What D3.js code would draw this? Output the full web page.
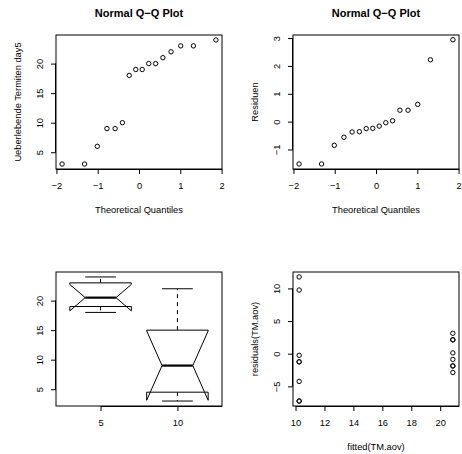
<!DOCTYPE html>
<html>
<head>
<meta charset="utf-8">
<script src="https://cdn.jsdelivr.net/npm/d3@7"></script>
<style>
  body { margin: 0; background: #fff; }
  svg text { font-family: "Liberation Sans", Arial, sans-serif; fill: #000; }
</style>
</head>
<body>
<svg id="chart" width="462" height="454" viewBox="0 0 462 454"></svg>
<script>
// ---- data ----
const theoQuantiles = [-1.863, -1.318, -1.010, -0.776, -0.579, -0.402, -0.237, -0.078,
                        0.078, 0.237, 0.402, 0.579, 0.776, 1.010, 1.318, 1.863];
const survivors = [3, 3, 6, 9, 9, 10, 18, 19, 19, 20, 20, 21, 22, 23, 23, 24];
const residQuantiles = [-1.52, -1.52, -0.85, -0.56, -0.37, -0.36, -0.25, -0.24,
                        -0.16, -0.04, 0.03, 0.41, 0.41, 0.62, 2.22, 2.94];

const boxGroups = ["5", "10"];
// lower whisker, lower hinge, median, upper hinge, upper whisker
const boxStats = [[18, 19, 20.5, 23, 24], [3, 4.5, 9, 15, 22]];
const boxNotches = [[18.27, 22.73], [3.13, 14.87]];

const fittedValues = [10.25, 10.25, 10.25, 10.25, 10.25, 10.25, 10.25, 10.25,
                      20.875, 20.875, 20.875, 20.875, 20.875, 20.875, 20.875, 20.875];
const residualValues = [11.75, 9.75, -0.25, -1.25, -1.25, -4.25, -7.25, -7.25,
                        3.125, 2.125, 2.125, 0.125, -0.875, -1.875, -1.875, -2.875];

const svg = d3.select("#chart");

/* ----- panel helpers ----- */

function makePanel(box, xDomain, yDomain)
{
    let x = d3.scaleLinear().domain(xDomain).range([box.x0, box.x1]);
    let y = d3.scaleLinear().domain(yDomain).range([box.y1, box.y0]);
    let g = svg.append("g");
    g.append("rect")
        .attr("x", box.x0).attr("y", box.y0)
        .attr("width", box.x1 - box.x0).attr("height", box.y1 - box.y0)
        .attr("fill", "none").attr("stroke", "#000").attr("stroke-width", 1);
    return {box: box, x: x, y: y, g: g};
}

function bottomAxis(p, ticks, fmt)
{
    let ax = svg.append("g")
        .attr("transform", `translate(0,${p.box.y1})`)
        .call(d3.axisBottom(p.x).tickValues(ticks).tickSize(5).tickFormat(fmt));
    ax.select(".domain").remove();
    ax.selectAll("text").attr("y", 20).attr("dy", null).style("font-size", "9.3px");
    // axis line runs on from the first tick
    svg.append("line")
        .attr("x1", p.x(ticks[0])).attr("x2", p.box.x1)
        .attr("y1", p.box.y1 + 0.5).attr("y2", p.box.y1 + 0.5)
        .attr("stroke", "#000").attr("stroke-width", 1.2);
}

function leftAxis(p, ticks, fmt)
{
    let ax = svg.append("g")
        .attr("transform", `translate(${p.box.x0},0)`)
        .call(d3.axisLeft(p.y).tickValues(ticks).tickSize(5).tickFormat(fmt));
    ax.select(".domain").remove();
    ax.selectAll("text")
        .attr("transform", "rotate(-90)")
        .attr("x", 0).attr("y", -13).attr("dy", null)
        .attr("text-anchor", "middle")
        .style("font-size", "9.3px");
    svg.append("line")
        .attr("x1", p.box.x0 - 0.5).attr("x2", p.box.x0 - 0.5)
        .attr("y1", p.y(ticks[0])).attr("y2", p.y(ticks[ticks.length - 1]))
        .attr("stroke", "#000").attr("stroke-width", 1);
}

function labels(p, title, xlab, ylab)
{
    let cx = (p.box.x0 + p.box.x1) / 2;
    let cy = (p.box.y0 + p.box.y1) / 2;
    if (title) {
        svg.append("text").attr("x", cx).attr("y", p.box.y0 - 18)
            .attr("text-anchor", "middle")
            .style("font-size", "11px").style("font-weight", "bold")
            .text(title);
    }
    if (xlab) {
        svg.append("text").attr("x", cx).attr("y", p.box.y1 + 43.5)
            .attr("text-anchor", "middle").style("font-size", "9.3px")
            .text(xlab);
    }
    if (ylab) {
        svg.append("text")
            .attr("transform", `translate(${p.box.x0 - 35},${cy}) rotate(-90)`)
            .attr("text-anchor", "middle").style("font-size", "9.3px")
            .text(ylab);
    }
}

function drawPoints(p, xs, ys)
{
    p.g.selectAll(".pt")
        .data(xs.map((d, i) => [d, ys[i]]))
        .enter()
        .append("circle")
        .attr("class", "pt")
        .attr("cx", d => p.x(d[0]))
        .attr("cy", d => p.y(d[1]))
        .attr("r", 2.2)
        .attr("fill", "none")
        .attr("stroke", "#000")
        .attr("stroke-width", 1);
}

const fmtInt = d3.format("d");

/* ----- top left: QQ plot of survivors ----- */

let p1 = makePanel({x0: 56, x1: 222, y0: 35, y1: 169}, [-2.01, 2.01], [2.16, 24.84]);
drawPoints(p1, theoQuantiles, survivors);
bottomAxis(p1, [-2, -1, 0, 1, 2], fmtInt);
leftAxis(p1, [5, 10, 15, 20], fmtInt);
labels(p1, "Normal Q\u2212Q Plot", "Theoretical Quantiles", "Ueberlebende Termiten day5");

/* ----- top right: QQ plot of residuals ----- */

let p2 = makePanel({x0: 293, x1: 459, y0: 35, y1: 169}, [-2.01, 2.01], [-1.70, 3.11]);
drawPoints(p2, theoQuantiles, residQuantiles);
bottomAxis(p2, [-2, -1, 0, 1, 2], fmtInt);
leftAxis(p2, [-1, 0, 1, 2, 3], fmtInt);
labels(p2, "Normal Q\u2212Q Plot", "Theoretical Quantiles", "Residuen");

/* ----- bottom left: notched boxplot ----- */

let p3 = makePanel({x0: 56, x1: 222, y0: 272, y1: 406}, [0.42, 2.58], [2.16, 24.84]);

boxStats.forEach(function (s, i) {
    let pos = i + 1;
    let xl = p3.x(pos - 0.4), xr = p3.x(pos + 0.4);
    let ml = p3.x(pos - 0.2), mr = p3.x(pos + 0.2);
    let cx = p3.x(pos);
    let n = boxNotches[i];
    let y = p3.y;

    // whiskers (dashed) and staples
    [[s[1], s[0]], [s[3], s[4]]].forEach(function (w) {
        p3.g.append("line")
            .attr("x1", cx).attr("x2", cx)
            .attr("y1", y(w[0])).attr("y2", y(w[1]))
            .attr("stroke", "#000").attr("stroke-dasharray", "4,4");
        p3.g.append("line")
            .attr("x1", ml).attr("x2", mr)
            .attr("y1", y(w[1])).attr("y2", y(w[1]))
            .attr("stroke", "#000");
    });

    let pts = [[xl, y(s[1])], [xl, y(n[0])], [ml, y(s[2])], [xl, y(n[1])], [xl, y(s[3])],
               [xr, y(s[3])], [xr, y(n[1])], [mr, y(s[2])], [xr, y(n[0])], [xr, y(s[1])]];
    p3.g.append("polygon")
        .attr("points", pts.map(d => d.join(",")).join(" "))
        .attr("fill", "#fff").attr("stroke", "#000").attr("stroke-width", 1);

    p3.g.append("line")
        .attr("x1", ml).attr("x2", mr)
        .attr("y1", y(s[2])).attr("y2", y(s[2]))
        .attr("stroke", "#000").attr("stroke-width", 2.2);
});

bottomAxis(p3, [1, 2], (d, i) => boxGroups[i]);
leftAxis(p3, [5, 10, 15, 20], fmtInt);

/* ----- bottom right: residuals vs fitted ----- */

let p4 = makePanel({x0: 293, x1: 459, y0: 272, y1: 406}, [9.825, 21.3], [-8.01, 12.51]);
drawPoints(p4, fittedValues, residualValues);
bottomAxis(p4, [10, 12, 14, 16, 18, 20], fmtInt);
leftAxis(p4, [-5, 0, 5, 10], fmtInt);
labels(p4, null, "fitted(TM.aov)", "residuals(TM.aov)");
</script>
</body>
</html>
